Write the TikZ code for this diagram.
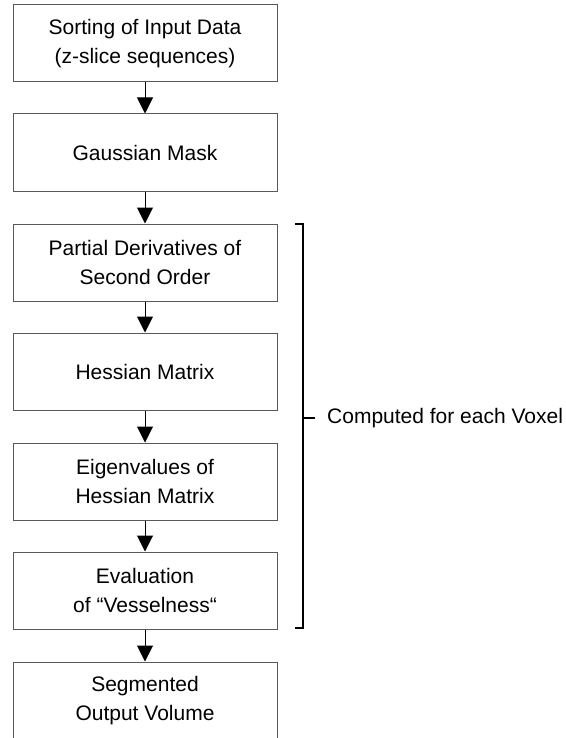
\documentclass[tikz,border=0pt]{standalone}
\usepackage{fontspec}
\setmainfont{Liberation Sans}
\usetikzlibrary{arrows.meta}
\begin{document}
\begin{tikzpicture}[x=1pt,y=-1pt,
  stepbox/.style={draw=black!65,line width=1pt,rectangle,minimum width=264pt,minimum height=77pt,align=center,inner sep=0pt,font=\fontsize{21}{29}\selectfont},
  flow/.style={line width=1pt,-{Triangle[width=16pt,length=16pt]}}]
\useasboundingbox (0,0) rectangle (565,738);
\clip (0,0) rectangle (565,738);
\node[stepbox] (a) at (145,43.5) {Sorting of Input Data\\(z-slice sequences)};
\node[stepbox] (b) at (145,152.5) {Gaussian Mask};
\node[stepbox] (c) at (145,262.5) {Partial Derivatives of\\Second Order};
\node[stepbox] (d) at (145,371.5) {Hessian Matrix};
\node[stepbox] (e) at (145,481.5) {Eigenvalues of\\Hessian Matrix};
\node[stepbox] (f) at (145,590.5) {Evaluation\\of “Vesselness“};
\node[stepbox] (g) at (145,700.5) {Segmented\\Output Volume};
\foreach \u/\v in {a/b,b/c,c/d,d/e,e/f,f/g} \draw[flow] (\u) -- (\v);
\coordinate (t1) at (295,224);
\coordinate (t2) at (303,224);
\coordinate (b2) at (303,628);
\coordinate (b1) at (295,628);
\coordinate (m1) at (303,418);
\coordinate (m2) at (315,418);
\draw[line width=2.6pt] (t1) -- (t2) -- (b2) -- (b1);
\draw[line width=2.6pt] (m1) -- (m2);
\node[anchor=west,inner sep=0pt,font=\fontsize{21}{29}\selectfont] (lbl) at (327,418) {Computed for each Voxel};
\end{tikzpicture}
\end{document}
